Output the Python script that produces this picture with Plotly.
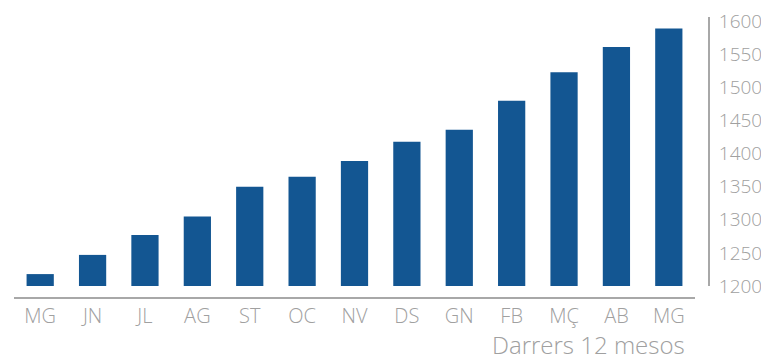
import plotly.graph_objects as go

months = ["MG", "JN", "JL", "AG", "ST", "OC", "NV", "DS", "GN", "FB", "MÇ", "AB", "MG "]
values = [1218, 1247, 1277, 1305, 1350, 1365, 1389, 1418, 1436, 1480, 1523, 1561, 1589]
y_ticks = [1200, 1250, 1300, 1350, 1400, 1450, 1500, 1550, 1600]
x_title = "Darrers 12 mesos"

BLUE = "#135692"
GRAY = "#a8a8a8"
TXT = "#a0a0a0"
FONT = "Open Sans"

# the page body adds an 8px offset; the figure is sized to fit the window
W, H = 761, 349
L, R, T, B = 6, 59, 9, 59
pw = W - L - R
ph = H - T - B

fig = go.Figure(go.Bar(
    x=list(range(len(months))), y=[v - 1200 for v in values], base=1200,
    marker=dict(color=BLUE, line=dict(width=0)),
    width=0.52, hoverinfo="skip",
))

fig.update_layout(
    width=W, height=H,
    margin=dict(l=L, r=R, t=T, b=B, autoexpand=False),
    paper_bgcolor="white", plot_bgcolor="white",
    showlegend=False,
    font=dict(family=FONT, color=TXT, size=19, weight=300),
    xaxis=dict(
        domain=[0, 681 / pw],
        range=[-0.5, len(months) - 0.5],
        tickmode="array", tickvals=list(range(len(months))), ticktext=[m.strip() for m in months],
        showgrid=False, zeroline=False,
        showline=True, linecolor=GRAY, linewidth=2,
        anchor="free", position=0,
        ticks="", ticklabelstandoff=0, ticklabeloverflow="allow",
        tickfont=dict(family=FONT, size=20, color=TXT, weight=300),
    ),
    yaxis=dict(
        domain=[12 / ph, 1],
        range=[1200, 1606.5],
        tickmode="array", tickvals=y_ticks, ticktext=[str(t) for t in y_ticks],
        side="right", anchor="free", position=695 / pw,
        showgrid=False, zeroline=False,
        showline=True, linecolor=GRAY, linewidth=2,
        ticks="", ticklabelstandoff=5, ticklabeloverflow="allow",
        tickfont=dict(family=FONT, size=19, color=TXT, weight=300),
    ),
    annotations=[dict(
        text=x_title, xref="paper", yref="paper",
        x=673 / pw, y=-46 / ph,
        xanchor="right", yanchor="middle", showarrow=False,
        font=dict(family=FONT, size=24, color=TXT, weight=300),
    )],
)

fig.write_html("out.html")
